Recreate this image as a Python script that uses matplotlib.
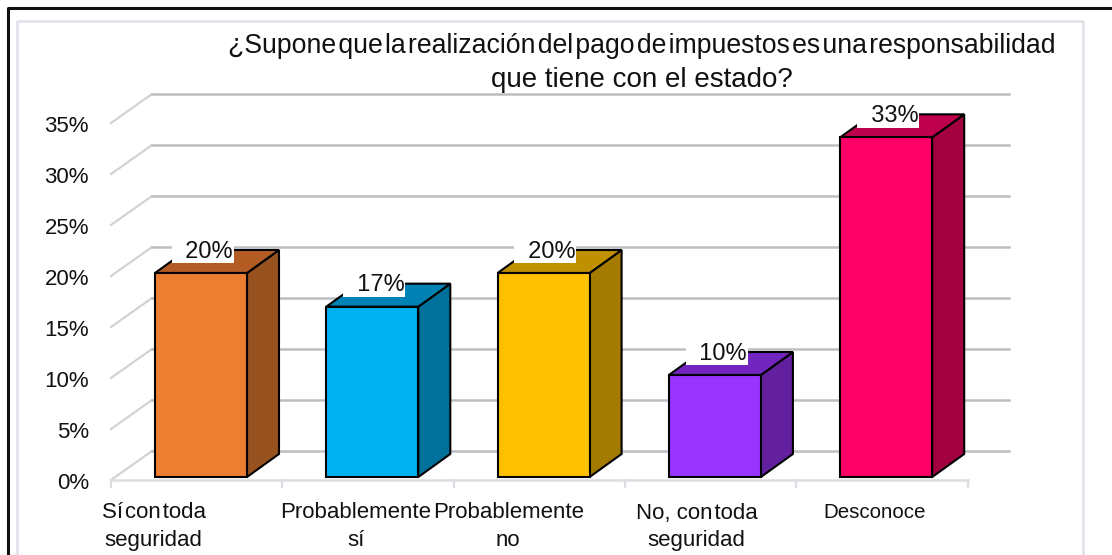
import matplotlib
matplotlib.use('Agg')
import matplotlib.pyplot as plt
from matplotlib.patches import Polygon, Rectangle

plt.rcParams['font.family'] = ['Liberation Sans', 'DejaVu Sans']

# values, hair spaces where the original squeezes its words
hs = '\u200a'
categories = [f'Sí{hs}con{hs}toda\nseguridad', 'Probablemente\nsí', 'Probablemente\nno',
              f'No, con{hs}toda\nseguridad', 'Desconoce']
values = [20, 16.7, 20, 10, 33.3]
y_ticks = [0, 5, 10, 15, 20, 25, 30, 35]
title_lines = ['¿Supone que la realización del pago de impuestos es una responsabilidad'.replace(' ', hs),
               'que tiene con el estado?']

front_colors = ['#ED7D31', '#00B0F0', '#FFC000', '#9933FF', '#FF0066']
side_colors = ['#97521F', '#00719B', '#A37B00', '#62209F', '#A3003F']
top_colors = ['#B35C24', '#0083B4', '#BF9000', '#7326BF', '#BF004D']

W, H = 1112, 555
fig = plt.figure(figsize=(W / 100, H / 100), dpi=100)

# the frame around the chart, in figure pixels
fig.add_artist(plt.Line2D([8 / W, 8 / W, 1], [0, 1 - 8 / H, 1 - 8 / H], color='#111111', lw=2.2))
fig.add_artist(plt.Line2D([17 / W, 17 / W, 1083 / W, 1083 / W], [0, 1 - 21 / H, 1 - 21 / H, 0],
                          color='#DDE2E8', lw=1.8))

# axes fill the figure: 171.3 px per category, 10.2 px per percent
ax = fig.add_axes([0, 0, 1, 1])
ax.set_xlim(-201 / 171.3, (W - 201) / 171.3)
ax.set_ylim(-(H - 477) / 10.2, 477 / 10.2)
ax.axis('off')
ax.patch.set_alpha(0)

bar_w = 92 / 171.3
bar_dx = 32 / 171.3
bar_dy = 23 / 10.2

# box of the 3d floor and walls
x_left = -90 / 171.3
x_right = x_left + len(categories)
floor_y = -3 / 10.2
wall_dx = 41 / 171.3
wall_dy = 29 / 10.2

for t in y_ticks:
    ax.plot([x_left, x_left + wall_dx], [floor_y + t, floor_y + t + wall_dy], color='#D2D3D7', lw=1.6, zorder=1)
    ax.plot([x_left + wall_dx, x_right + wall_dx], [floor_y + t + wall_dy] * 2, color='#BCBEC4', lw=1.8, zorder=1)
    ax.text(x_left - 22 / 171.3, floor_y + t - 0.3, f'{t}%', ha='right', va='center', fontsize=16, color='#111111')

ax.plot([x_left, x_right], [floor_y, floor_y], color='#DADDE1', lw=1.8, zorder=1)
for i in range(len(categories) + 1):
    ax.plot([x_left + i, x_left + i], [floor_y, floor_y - 0.7], color='#DADDE1', lw=1.6, zorder=1)

for i, v in enumerate(values):
    x0, x1 = i - bar_w / 2, i + bar_w / 2
    ax.add_patch(Polygon([(x1, 0), (x1 + bar_dx, bar_dy), (x1 + bar_dx, v + bar_dy), (x1, v)],
                         fc=side_colors[i], ec='black', lw=1.5, zorder=3))
    ax.add_patch(Polygon([(x0, v), (x0 + bar_dx, v + bar_dy), (x1 + bar_dx, v + bar_dy), (x1, v)],
                         fc=top_colors[i], ec='black', lw=1.5, zorder=3))
    ax.add_patch(Rectangle((x0, 0), bar_w, v, fc=front_colors[i], ec='black', lw=1.5, zorder=4))
    ax.text(i + 32 / 171.3, v + 2.1, f'  {v:.0f}%', ha='right', va='center', fontsize=17, color='#111111',
            bbox=dict(fc='white', ec='none', pad=0.5), zorder=5)

# category labels do not sit centred under their bars in the original
label_shift = [-43, -12, -31, -14, -7]
label_size = [16, 16, 16, 16, 14.8]
for i, c in enumerate(categories):
    ax.text(x_left + 0.5 + i + label_shift[i] / 171.3, -2.5, c, ha='center', va='top', fontsize=label_size[i],
            linespacing=1.4, color='#111111')

ax.text(0.577, 1 - 46 / H, title_lines[0], transform=ax.transAxes, ha='center', va='center',
        fontsize=19.2, color='#111111')
ax.text(0.577, 1 - 80 / H, title_lines[1], transform=ax.transAxes, ha='center', va='center',
        fontsize=20, color='#111111')

fig.savefig('out.png', dpi=100)
